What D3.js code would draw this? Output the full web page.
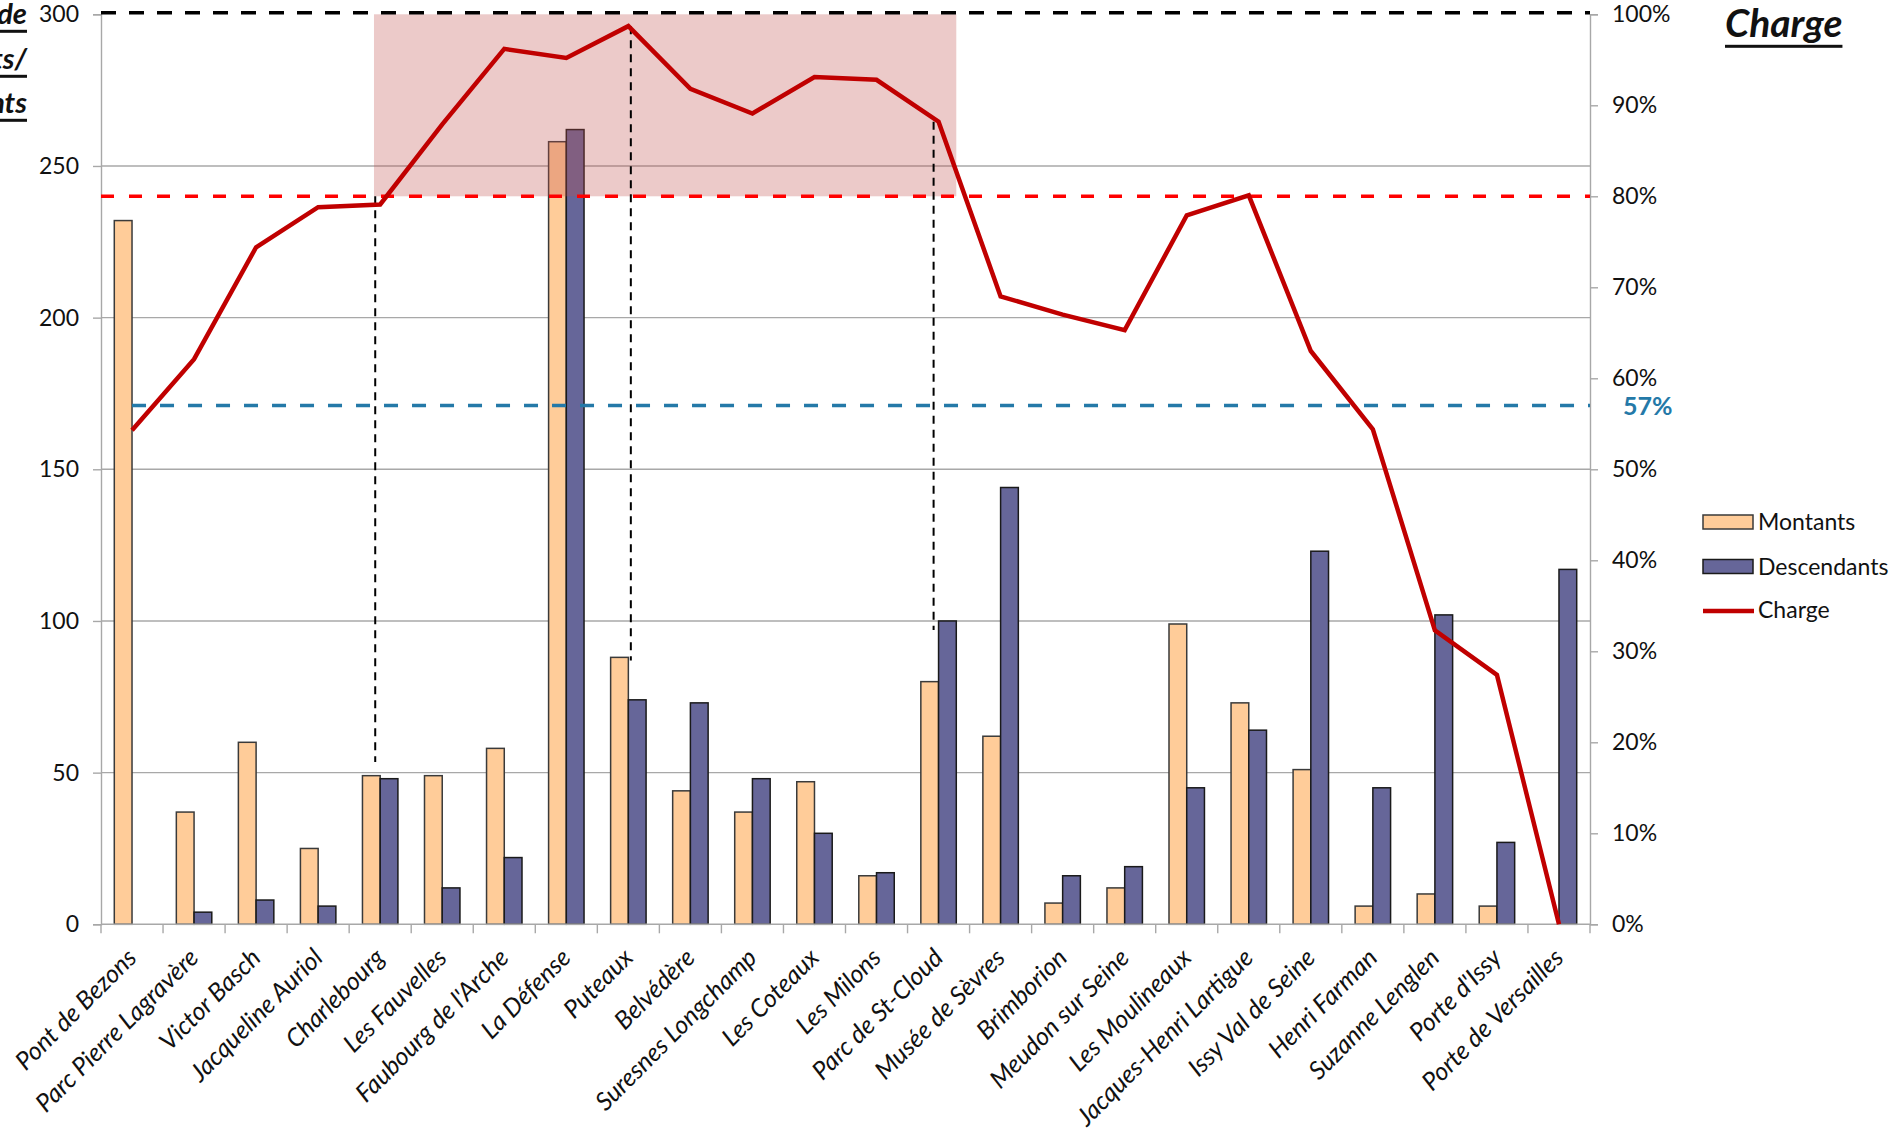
<!DOCTYPE html>
<html>
<head>
<meta charset="utf-8">
<script src="https://cdn.jsdelivr.net/npm/d3@7"></script>
<style>
  html, body { margin: 0; padding: 0; background: #fff; }
  svg { display: block; }
  text { font-family: Lato, "Open Sans", sans-serif; fill: #111; }
</style>
</head>
<body>
<svg id="chart" width="1891" height="1131"></svg>
<script>
// Stations along the line, in order of travel
const stations = [
  "Pont de Bezons", "Parc Pierre Lagravère", "Victor Basch", "Jacqueline Auriol",
  "Charlebourg", "Les Fauvelles", "Faubourg de l'Arche", "La Défense", "Puteaux",
  "Belvédère", "Suresnes Longchamp", "Les Coteaux", "Les Milons", "Parc de St-Cloud",
  "Musée de Sèvres", "Brimborion", "Meudon sur Seine", "Les Moulineaux",
  "Jacques-Henri Lartigue", "Issy Val de Seine", "Henri Farman", "Suzanne Lenglen",
  "Porte d'Issy", "Porte de Versailles"
];
// Passengers boarding at each station
const montants = [232, 37, 60, 25, 49, 49, 58, 258, 88, 44, 37, 47, 16, 80, 62, 7, 12, 99, 73, 51, 6, 10, 6, 0];
// Passengers alighting at each station
const descendants = [0, 4, 8, 6, 48, 12, 22, 262, 74, 73, 48, 30, 17, 100, 144, 16, 19, 45, 64, 123, 45, 102, 27, 117];
// Vehicle load after leaving each station (share of capacity)
const charge = [0.543, 0.621, 0.744, 0.788, 0.791, 0.879, 0.962, 0.952, 0.987, 0.918, 0.891, 0.931,
                0.928, 0.882, 0.690, 0.670, 0.653, 0.779, 0.801, 0.630, 0.544, 0.323, 0.274, 0.0];

const leftTicks = [0, 50, 100, 150, 200, 250, 300];
const rightTicks = [0, 0.1, 0.2, 0.3, 0.4, 0.5, 0.6, 0.7, 0.8, 0.9, 1.0];

// Reference levels
const fullLoad = 1.0;        // capacity
const comfortLimit = 0.8;    // comfort threshold
const meanCharge = 0.57;     // mean load over the line

// Overloaded section
const overloadFrom = "Charlebourg";
const overloadTo = "Parc de St-Cloud";

// Guide lines dropped from the load curve to the bars
const guideStations = ["Charlebourg", "Puteaux", "Parc de St-Cloud"];
const guideTops = [0.80, 0.987, 0.882];   // load level where each guide starts
const guideBottoms = [53.5, 87, 97];      // passenger count where each guide stops

const svg = d3.select("#chart");

const plotLeft = 101, plotRight = 1590, plotTop = 14.3, plotBottom = 924.3;
// where each guide sits inside its station's band
const guideShift = { "Charlebourg": 0.42, "Puteaux": 0.54, "Parc de St-Cloud": 0.42 };

const x = d3.scaleBand().domain(stations).range([plotLeft, plotRight]).paddingInner(0).paddingOuter(0);
const xSub = d3.scaleBand().domain(["Montants", "Descendants"]).range([0, x.bandwidth()]).paddingInner(0).paddingOuter(0.75);
const yL = d3.scaleLinear().domain([0, 300]).range([plotBottom, plotTop]);
const yR = d3.scaleLinear().domain([0, 1]).range([plotBottom, plotTop]);

const colors = { Montants: "#FFCC99", Descendants: "#666699" };
const strokes = { Montants: "#3a3a3a", Descendants: "#1a1a1a" };
const gridColor = "#a8a8a8";

// Horizontal gridlines from the left axis
svg.append("g").selectAll("line")
  .data(leftTicks.filter(d => d > 0 && d < 300))
  .join("line")
  .attr("x1", plotLeft).attr("x2", plotRight)
  .attr("y1", d => yL(d)).attr("y2", d => yL(d))
  .attr("stroke", gridColor).attr("stroke-width", 1.4);

// Left axis
const gL = svg.append("g").attr("transform", `translate(${plotLeft},0)`)
  .call(d3.axisLeft(yL).tickValues(leftTicks).tickSize(8).tickPadding(14));
gL.select(".domain").attr("stroke", gridColor).attr("stroke-width", 1.4);
gL.selectAll(".tick line").attr("stroke", gridColor).attr("stroke-width", 1.4);
gL.selectAll(".tick text").attr("font-size", 23).attr("font-family", "Lato").attr("fill", "#111");

// Right axis
const gR = svg.append("g").attr("transform", `translate(${plotRight},0)`)
  .call(d3.axisRight(yR).tickValues(rightTicks).tickSize(8).tickPadding(14).tickFormat(d3.format(".0%")));
gR.select(".domain").attr("stroke", gridColor).attr("stroke-width", 1.4);
gR.selectAll(".tick line").attr("stroke", gridColor).attr("stroke-width", 1.4);
gR.selectAll(".tick text").attr("font-size", 23).attr("font-family", "Lato").attr("fill", "#111");

// Bars
const series = ["Montants", "Descendants"];
const values = { Montants: montants, Descendants: descendants };
series.forEach(s => {
  svg.append("g").selectAll("rect")
    .data(stations.map((st, i) => ({ st, v: values[s][i] })).filter(d => d.v > 0))
    .join("rect")
    .attr("x", d => x(d.st) + xSub(s))
    .attr("width", xSub.bandwidth())
    .attr("y", d => yL(d.v))
    .attr("height", d => yL(0) - yL(d.v))
    .attr("fill", colors[s])
    .attr("stroke", strokes[s])
    .attr("stroke-width", 1.5);
});

// Bottom axis with ticks between stations
const gB = svg.append("g");
gB.append("line").attr("x1", plotLeft).attr("x2", plotRight).attr("y1", plotBottom).attr("y2", plotBottom)
  .attr("stroke", gridColor).attr("stroke-width", 1.4);
gB.selectAll("line.tick")
  .data(stations.map(s => x(s)).concat([x(stations[stations.length - 1]) + x.bandwidth()]))
  .join("line").attr("class", "tick")
  .attr("x1", d => d).attr("x2", d => d)
  .attr("y1", plotBottom).attr("y2", plotBottom + 9)
  .attr("stroke", gridColor).attr("stroke-width", 1.4);
gB.selectAll("text")
  .data(stations)
  .join("text")
  .attr("transform", d => `translate(${x(d) + x.bandwidth() / 2 + 6},${plotBottom + 35}) rotate(-45)`)
  .attr("text-anchor", "end")
  .attr("font-size", 25)
  .attr("font-style", "italic")
  .text(d => d);

// Overloaded section
const zoneX0 = x(overloadFrom) + x.bandwidth() * 0.4;
const zoneX1 = x(overloadTo) + xSub("Descendants") + xSub.bandwidth();
svg.append("rect")
  .attr("x", zoneX0).attr("width", zoneX1 - zoneX0)
  .attr("y", yR(fullLoad)).attr("height", yR(comfortLimit) - yR(fullLoad))
  .attr("fill", "#C0504D").attr("fill-opacity", 0.3);

// Reference levels
svg.append("line")
  .attr("x1", plotLeft).attr("x2", plotRight)
  .attr("y1", yR(fullLoad) - 1.5).attr("y2", yR(fullLoad) - 1.5)
  .attr("stroke", "#000").attr("stroke-width", 3.5).attr("stroke-dasharray", "15,13");
svg.append("line")
  .attr("x1", plotLeft).attr("x2", plotRight)
  .attr("y1", yR(comfortLimit)).attr("y2", yR(comfortLimit))
  .attr("stroke", "#FF0000").attr("stroke-width", 3.5).attr("stroke-dasharray", "13,15");
svg.append("line")
  .attr("x1", x(stations[0]) + x.bandwidth() / 2).attr("x2", plotRight)
  .attr("y1", yR(meanCharge)).attr("y2", yR(meanCharge))
  .attr("stroke", "#2479A8").attr("stroke-width", 3.5).attr("stroke-dasharray", "14,14");
svg.append("text")
  .attr("x", plotRight + 33).attr("y", yR(meanCharge) + 9)
  .attr("font-size", 25).attr("font-weight", "bold")
  .style("fill", "#2479A8")
  .text(d3.format(".0%")(meanCharge));

// Guide lines
svg.append("g").selectAll("line")
  .data(guideStations.map((s, i) => ({ s, t: guideTops[i], b: guideBottoms[i] })))
  .join("line")
  .attr("x1", d => x(d.s) + x.bandwidth() * guideShift[d.s])
  .attr("x2", d => x(d.s) + x.bandwidth() * guideShift[d.s])
  .attr("y1", d => yR(d.t)).attr("y2", d => yL(d.b))
  .attr("stroke", "#000").attr("stroke-width", 2).attr("stroke-dasharray", "8,6");

// Load curve
const line = d3.line()
  .x((d, i) => x(stations[i]) + x.bandwidth() / 2)
  .y(d => yR(d));
svg.append("path")
  .datum(charge)
  .attr("d", line)
  .attr("fill", "none")
  .attr("stroke", "#C00000")
  .attr("stroke-width", 4.5)
  .attr("stroke-linejoin", "miter");

// Legend
const lg = svg.append("g").attr("transform", "translate(1703,0)");
series.forEach((s, i) => {
  const yy = 515 + i * 44.5;
  lg.append("rect").attr("x", 0).attr("y", yy).attr("width", 50).attr("height", 14)
    .attr("fill", colors[s]).attr("stroke", strokes[s]).attr("stroke-width", 1.5);
  lg.append("text").attr("x", 55).attr("y", yy + 15).attr("font-size", 23).text(s);
});
lg.append("line").attr("x1", 0).attr("x2", 51).attr("y1", 611).attr("y2", 611)
  .attr("stroke", "#C00000").attr("stroke-width", 4.5);
lg.append("text").attr("x", 55).attr("y", 618).attr("font-size", 23).text("Charge");

// Titles (bold italic, underlined)
function underlinedTitle(sel, tx, ty, str, size, anchor) {
  const t = sel.append("text")
    .attr("x", tx).attr("y", ty)
    .attr("text-anchor", anchor)
    .attr("font-size", size).attr("font-weight", "bold").attr("font-style", "italic")
    .text(str);
  const w = t.node().getComputedTextLength();
  const x0 = anchor === "end" ? tx - w : tx;
  sel.append("rect").attr("x", x0).attr("width", w).attr("y", ty + size * 0.2).attr("height", 3).attr("fill", "#111");
}
underlinedTitle(svg, 1725, 37, "Charge", 39, "start");
// Left-axis title, its start runs past the page edge
underlinedTitle(svg, 27, 24, "Nombre de", 29, "end");
underlinedTitle(svg, 27, 69, "montants/", 29, "end");
underlinedTitle(svg, 27, 113, "descendants", 29, "end");
</script>
</body>
</html>
